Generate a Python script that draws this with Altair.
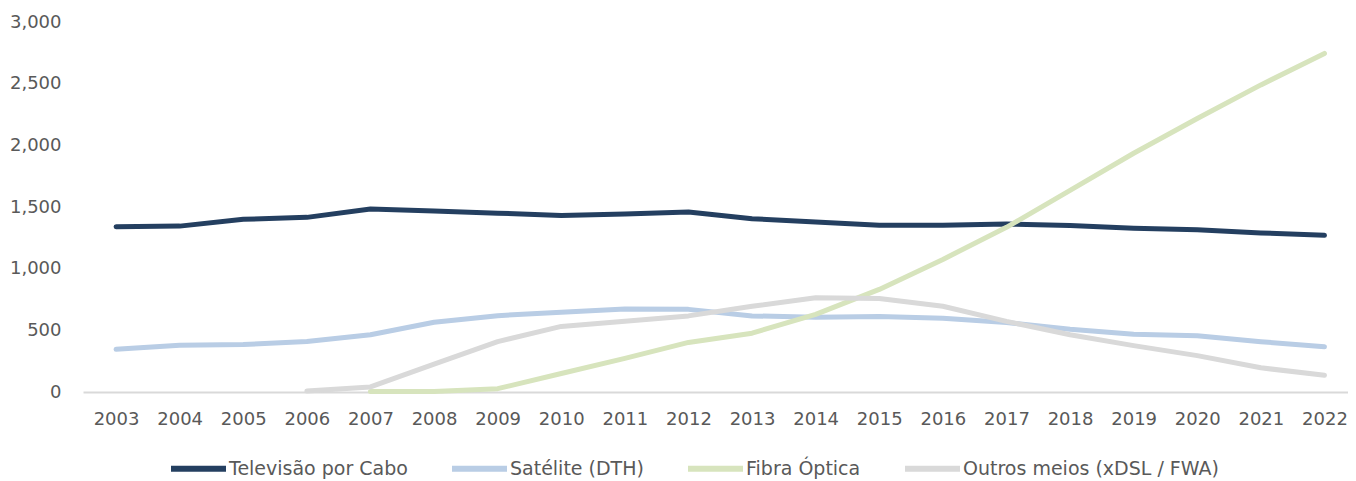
import altair as alt
import pandas as pd

years = list(range(2003, 2023))
series_names = ["Televisão por Cabo", "Satélite (DTH)", "Fibra Óptica", "Outros meios (xDSL / FWA)"]
colors = ["#243F60", "#B9CDE5", "#D7E4BD", "#D9D9D9"]

tv = [1340, 1345, 1400, 1416, 1483, 1467, 1450, 1432, 1444, 1460,
      1405, 1378, 1352, 1352, 1362, 1350, 1328, 1315, 1290, 1270]
sat = [346, 379, 385, 409, 464, 565, 619, 646, 672, 670,
       617, 606, 612, 598, 563, 508, 468, 456, 408, 366]
fibra = [None, None, None, None, 5, 5, 27, 150, 273, 402,
         477, 630, 832, 1075, 1335, 1635, 1936, 2217, 2490, 2745]
outros = [None, None, None, 8, 41, 226, 409, 532, 573, 617,
          695, 764, 758, 695, 573, 464, 376, 295, 196, 136]

y_ticks = [0, 500, 1000, 1500, 2000, 2500, 3000]

rows = []
for name, vals in zip(series_names, [tv, sat, fibra, outros]):
    for yr, v in zip(years, vals):
        if v is not None:
            rows.append({"Ano": yr, "Série": name, "Valor": v})
df = pd.DataFrame(rows)

FONT = "DejaVu Sans"
GRAY = "#595959"

chart = alt.Chart(df).mark_line(strokeWidth=5, strokeCap="round", strokeJoin="round").encode(
    x=alt.X("Ano:Q",
            scale=alt.Scale(domain=[2002.48, 2022.37], nice=False, zero=False),
            axis=alt.Axis(values=years, format="d", title=None, grid=False, ticks=False,
                          domain=True, domainColor="#D9D9D9", domainWidth=2,
                          labelFont=FONT, labelFontSize=18, labelColor=GRAY,
                          labelPadding=18, labelFlush=False, labelOverlap=False)),
    y=alt.Y("Valor:Q",
            scale=alt.Scale(domain=[0, 3000], nice=False),
            axis=alt.Axis(values=y_ticks, format=",d", title=None, grid=False, ticks=False,
                          domain=False, labelFont=FONT, labelFontSize=18, labelColor=GRAY,
                          labelPadding=22)),
    color=alt.Color("Série:N",
                    scale=alt.Scale(domain=series_names, range=colors),
                    sort=series_names,
                    legend=alt.Legend(title=None, orient="none", legendX=85, legendY=416,
                                      direction="horizontal", columns=4, columnPadding=32,
                                      symbolType="stroke", symbolSize=3025, symbolStrokeWidth=6,
                                      labelOffset=0, labelFont=FONT, labelFontSize=19,
                                      labelColor=GRAY, labelLimit=0, padding=0)),
    order=alt.Order("Ano:Q"),
).properties(
    width=1265,
    height=370,
    background="white",
    autosize=alt.AutoSizeParams(type="none"),
    padding={"left": 75, "top": 14, "right": 0, "bottom": 92},
).configure_view(stroke=None)

chart.save("out.html", embed_options={"renderer": "svg", "actions": False})
